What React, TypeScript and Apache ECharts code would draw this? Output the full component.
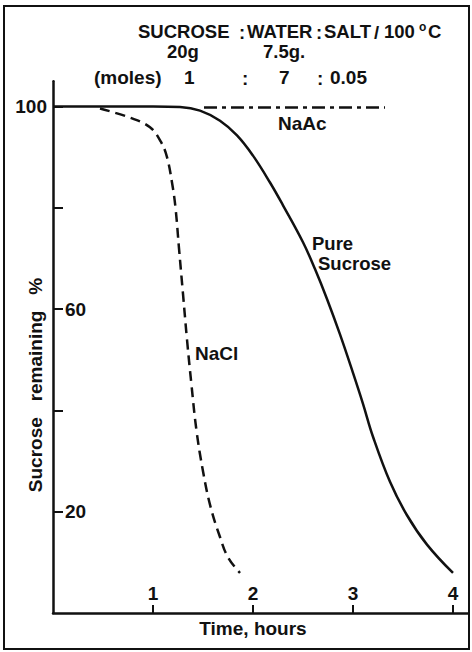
import React, { useEffect, useRef } from "react";
import * as echarts from "echarts";

// Time (hours), % sucrose remaining
const pureSucrose: [number, number][] = [
  [0, 100], [1.0, 100], [1.27, 99.9], [1.47, 99.2], [1.67, 97.2], [1.84, 94.3],
  [2.0, 90.3], [2.17, 85.0], [2.3, 80.5], [2.5, 73.2], [2.62, 67.9], [2.74, 62.0],
  [2.87, 55.0], [3.0, 47.4], [3.1, 41.3], [3.2, 34.8], [3.37, 25.9],
  [3.54, 19.3], [3.74, 13.5], [4.0, 7.9],
];
const naCl: [number, number][] = [
  [0.47, 99.6], [0.77, 97.8], [0.97, 95.9], [1.08, 93], [1.14, 90],
  [1.19, 85], [1.225, 80], [1.26, 72], [1.3, 63], [1.34, 54],
  [1.385, 45], [1.435, 36], [1.5, 28], [1.575, 21], [1.67, 15],
  [1.75, 11], [1.87, 7.9],
];
const naAc: [number, number][] = [[1.51, 99.8], [3.32, 99.8]];

const xTicks = [1, 2, 3, 4];
const yTicks = [20, 40, 60, 80, 100];
const yInsideLabels = [20, 60];
const yOutsideLabels = [100];

const FONT = "Liberation Sans";
const INK = "#111";

function t(text: string, x: number, y: number, size = 19, extra: any = {}) {
  return {
    type: "text",
    x,
    y,
    silent: true,
    style: {
      text,
      fontFamily: FONT,
      fontSize: size,
      fontWeight: "bold",
      fill: INK,
      textAlign: "left",
      textVerticalAlign: "middle",
      ...extra,
    },
  };
}

export default function App() {
  const ref = useRef<HTMLDivElement>(null);
  useEffect(() => {
    if (!ref.current) return;
    const chart = echarts.init(ref.current, undefined, { renderer: "svg" });
    const labelStyle = { fontFamily: FONT, fontSize: 19, fontWeight: "bold", color: INK };
    const H = 18.5;
    chart.setOption({
      animation: false,
      backgroundColor: "#fff",
      grid: { left: 53, right: 4, top: 81.2, bottom: 39, containLabel: false },
      xAxis: {
        type: "value",
        min: 0,
        max: 4.15,
        axisLine: { show: true, lineStyle: { color: INK, width: 2.5 } },
        axisTick: { show: true, inside: true, length: 8, customValues: xTicks, lineStyle: { color: INK, width: 2 } },
        axisLabel: { show: true, inside: true, margin: 10, customValues: xTicks, ...labelStyle },
        splitLine: { show: false },
      },
      yAxis: [
        {
          type: "value",
          min: 0,
          max: 105,
          axisLine: { show: true, lineStyle: { color: INK, width: 2.5 } },
          axisTick: { show: true, inside: true, length: 10, customValues: yTicks, lineStyle: { color: INK, width: 2 } },
          axisLabel: { show: true, inside: true, margin: 12, customValues: yInsideLabels, ...labelStyle },
          splitLine: { show: false },
        },
        {
          type: "value",
          position: "left",
          min: 0,
          max: 105,
          axisLine: { show: false },
          axisTick: { show: false },
          axisLabel: { show: true, inside: false, margin: 6, customValues: yOutsideLabels, ...labelStyle },
          splitLine: { show: false },
        },
      ],
      series: [
        {
          name: "Pure Sucrose",
          type: "line",
          data: pureSucrose,
          showSymbol: false,
          smooth: 0.4,
          lineStyle: { color: INK, width: 2.5, type: "solid" },
        },
        {
          name: "NaCl",
          type: "line",
          data: naCl,
          showSymbol: false,
          smooth: 0.4,
          lineStyle: { color: INK, width: 2.5, type: [10, 6] },
        },
        {
          name: "NaAc",
          type: "line",
          data: naAc,
          showSymbol: false,
          lineStyle: { color: INK, width: 2.5, type: [13, 5, 4, 5] },
        },
      ],
      graphic: [
        { type: "rect", shape: { x: 4, y: 6, width: 465, height: 643 }, style: { fill: "none", stroke: INK, lineWidth: 2 }, silent: true },
        t("SUCROSE", 138, 31, H),
        t(":", 239, 32, H),
        t("WATER", 247, 31, H),
        t(":", 316, 32, H),
        t("SALT", 324, 31, H),
        t("/", 374, 32, H),
        t("100", 384, 31, H),
        t("o", 419, 27, 12),
        t("C", 428, 31, H),
        t("20g", 167, 51, H),
        t("7.5g.", 263, 51, H),
        t("(moles)", 94, 77),
        t("1", 184, 77),
        t(":", 242, 78),
        t("7", 279, 77),
        t(":", 317, 78),
        t("0.05", 330, 77),
        t("NaAc", 278, 123),
        t("Pure", 312, 243, H),
        t("Sucrose", 318, 263, H),
        t("NaCl", 195, 353),
        {
          type: "text",
          x: 35,
          y: 385,
          rotation: Math.PI / 2,
          silent: true,
          style: {
            text: "Sucrose   remaining   %",
            fontFamily: FONT,
            fontSize: 19,
            fontWeight: "bold",
            fill: INK,
            textAlign: "center",
            textVerticalAlign: "middle",
          },
        },
        {
          type: "text",
          x: 253,
          y: 628,
          silent: true,
          style: {
            text: "Time, hours",
            fontFamily: FONT,
            fontSize: 19,
            fontWeight: "bold",
            fill: INK,
            textAlign: "center",
            textVerticalAlign: "middle",
          },
        },
      ],
    });
    return () => chart.dispose();
  }, []);
  return (
    <div
      ref={ref}
      style={{ position: "absolute", left: 0, top: 0, width: 472, height: 652 }}
    />
  );
}
